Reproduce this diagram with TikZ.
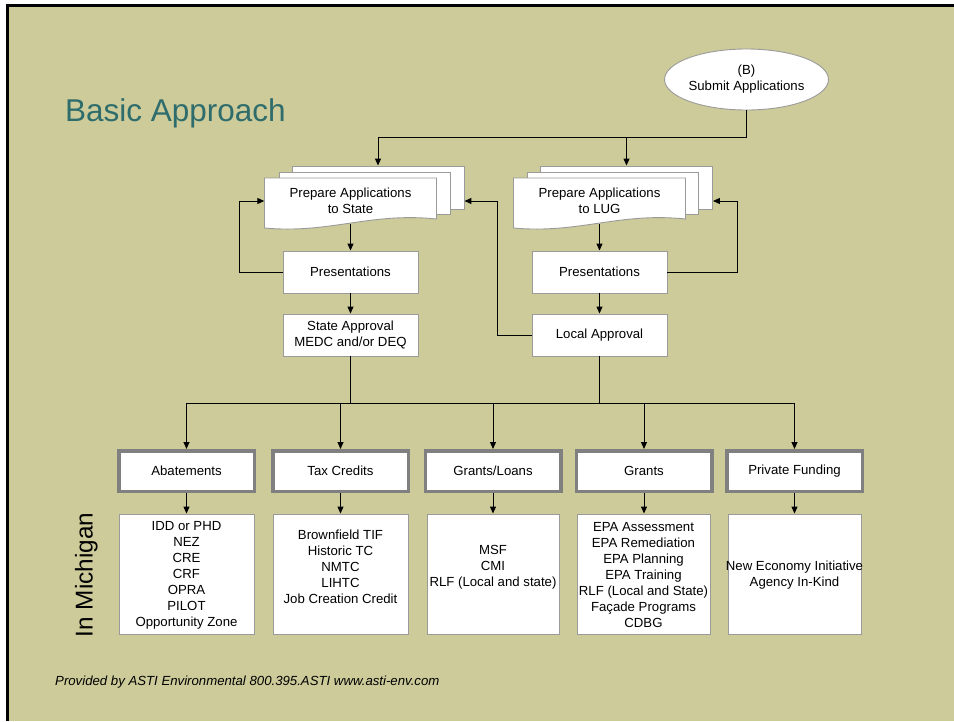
\documentclass[tikz,border=0pt]{standalone}
\usepackage{fontspec}
\setmainfont{Liberation Sans}
\usetikzlibrary{arrows.meta,shapes.geometric,calc}
\definecolor{khaki}{HTML}{CCCB99}
\definecolor{titleteal}{HTML}{2F6C6C}
\definecolor{boxgray}{HTML}{9A9A9A}
\definecolor{catgray}{HTML}{808080}

\begin{document}
\begin{tikzpicture}[x=1pt,y=-1pt,
  txt/.style={font=\fontsize{13.2}{16}\selectfont, align=center, inner sep=0pt},
  plainbox/.style={txt, draw=boxgray, line width=0.9pt, fill=white, minimum width=135pt, minimum height=42pt},
  catbox/.style={txt, draw=catgray, line width=3.5pt, fill=white, minimum width=135.5pt, minimum height=40.5pt},
  listbox/.style={draw=boxgray, line width=0.9pt, fill=white, inner sep=0pt, minimum width=134pt, minimum height=120pt},
  page/.style={draw=boxgray, line width=0.9pt, fill=white, inner sep=0pt, minimum width=172pt, minimum height=43pt},
  frontpage/.style={draw=boxgray, line width=0.9pt, fill=white},
  conn/.style={line width=1pt, draw=black},
  arr/.style={conn, -{Triangle[length=7pt,width=6pt]}},
]
% slide background and frame
\useasboundingbox (0,0) rectangle (954,721);
\fill[white] (0,0) rectangle (954,721);
\fill[khaki] (9,7) rectangle (954,721);
\draw[line width=3pt, miter limit=10] (7.5,721) -- (7.5,5.5) -- (954,5.5);

% title
\node[anchor=base west, text=titleteal, font=\fontsize{31.5}{36}\selectfont, inner sep=0pt] (title) at (65,121.5) {Basic Approach};

% start
\node[ellipse, txt, draw=boxgray, line width=0.9pt, fill=white, minimum width=143pt, minimum height=61pt] (submit) at (746.5,79.5) {(B)\\Submit Applications};

% application stack to the State
\node[page] (sback) at (378,187.5) {};
\node[page, minimum width=171pt, minimum height=42pt] (smid) at (364.5,193) {};
\draw[frontpage] (264.5,178) -- (436.5,178) -- (436.5,219) .. controls (370,212) and (330,234) .. (264.5,228) -- cycle;
\node[txt, minimum width=172pt, minimum height=46pt] (sdoc) at (350.5,201) {Prepare Applications\\to State};

% application stack to the LUG
\node[page] (lback) at (626.5,187.5) {};
\node[page, minimum width=171pt, minimum height=42pt] (lmid) at (613,193) {};
\draw[frontpage] (513.5,178) -- (685.5,178) -- (685.5,219) .. controls (619,212) and (579,234) .. (513.5,228) -- cycle;
\node[txt, minimum width=172pt, minimum height=46pt] (ldoc) at (599.5,201) {Prepare Applications\\to LUG};

% presentations and approvals
\node[plainbox] (spres) at (350.5,272) {Presentations};
\node[plainbox] (sappr) at (350.5,335) {State Approval\\MEDC and/or DEQ};
\node[plainbox] (lpres) at (599.5,272) {Presentations};
\node[plainbox] (lappr) at (599.5,335) {Local Approval};

% incentive categories
\node[catbox] (abat) at (186.5,471) {Abatements};
\node[catbox] (tax) at (340.5,471) {Tax Credits};
\node[catbox] (gl) at (493,471) {Grants/Loans};
\node[catbox] (gr) at (644,471) {Grants};
\node[catbox] (pf) at (794.5,471) {Private Funding};

% program lists
\node[listbox, minimum width=135pt] (abatl) at (186.5,574) {};
\node[listbox, minimum width=135pt] (taxl) at (340.5,574) {};
\node[listbox, minimum width=132pt] (gll) at (493,574) {};
\node[listbox, minimum width=133pt] (grl) at (643.5,574) {};
\node[listbox, minimum width=133pt] (pfl) at (794.5,574) {};

\node[txt] (abatt) at ($(abatl.center)+(0,1)$) {IDD or PHD\\NEZ\\CRE\\CRF\\OPRA\\PILOT\\Opportunity Zone};
\node[txt] (taxt) at ($(taxl.center)+(0,-7)$) {Brownfield TIF\\Historic TC\\NMTC\\LIHTC\\Job Creation Credit};
\node[txt] (glt) at ($(gll.center)+(0,-7)$) {MSF\\CMI\\RLF (Local and state)};
\node[txt] (grt) at ($(grl.center)+(0,1)$) {EPA Assessment\\EPA Remediation\\EPA Planning\\EPA Training\\RLF (Local and State)\\Façade Programs\\CDBG};
\node[txt] (pft) at ($(pfl.center)+(0,1)$) {New Economy Initiative\\Agency In-Kind};

% side label and footer
\node[rotate=90, anchor=base, font=\fontsize{24.3}{28}\selectfont, inner sep=0pt] (region) at (92.5,575) {In Michigan};
\node[anchor=base west, font=\fontsize{13.2}{16}\selectfont\itshape, inner sep=0pt] (footer) at (55,685.5) {Provided by ASTI Environmental 800.395.ASTI www.asti-env.com};

% connectors: submission split
\coordinate (split) at ($(submit.south)+(0,27)$);
\draw[conn] (submit.south) -- (split);
\draw[arr] (split) -| (sback.north);
\draw[arr] (split) -| (lback.north);

% connectors: application flow
\draw[arr] (sdoc.south) -- (spres.north);
\draw[arr] (ldoc.south) -- (lpres.north);
\draw[arr] (spres.south) -- (sappr.north);
\draw[arr] (lpres.south) -- (lappr.north);
\draw[arr] (spres.west) -- ++(-43,0) |- (sdoc.west);
\draw[arr] (lpres.east) -- ++(70,0) |- (lback.east |- ldoc.west);
\draw[arr] (lappr.west) -- ++(-34,0) |- (sback.east |- sdoc.west);

% connectors: distribution bus
\coordinate (bus) at (0,403);
\draw[conn] (abat.north |- bus) -- (pf.north |- bus);
\draw[conn] (sappr.south) -- (sappr.south |- bus);
\draw[conn] (lappr.south) -- (lappr.south |- bus);
\foreach \n in {abat,tax,gl,gr,pf} \draw[arr] (\n.north |- bus) -- (\n.north);

% connectors: categories to program lists
\draw[arr] (abat.south) -- (abatl.north);
\draw[arr] (tax.south) -- (taxl.north);
\draw[arr] (gl.south) -- (gll.north);
\draw[arr] (gr.south) -- (grl.north -| gr.south);
\draw[arr] (pf.south) -- (pfl.north);
\end{tikzpicture}
\end{document}
